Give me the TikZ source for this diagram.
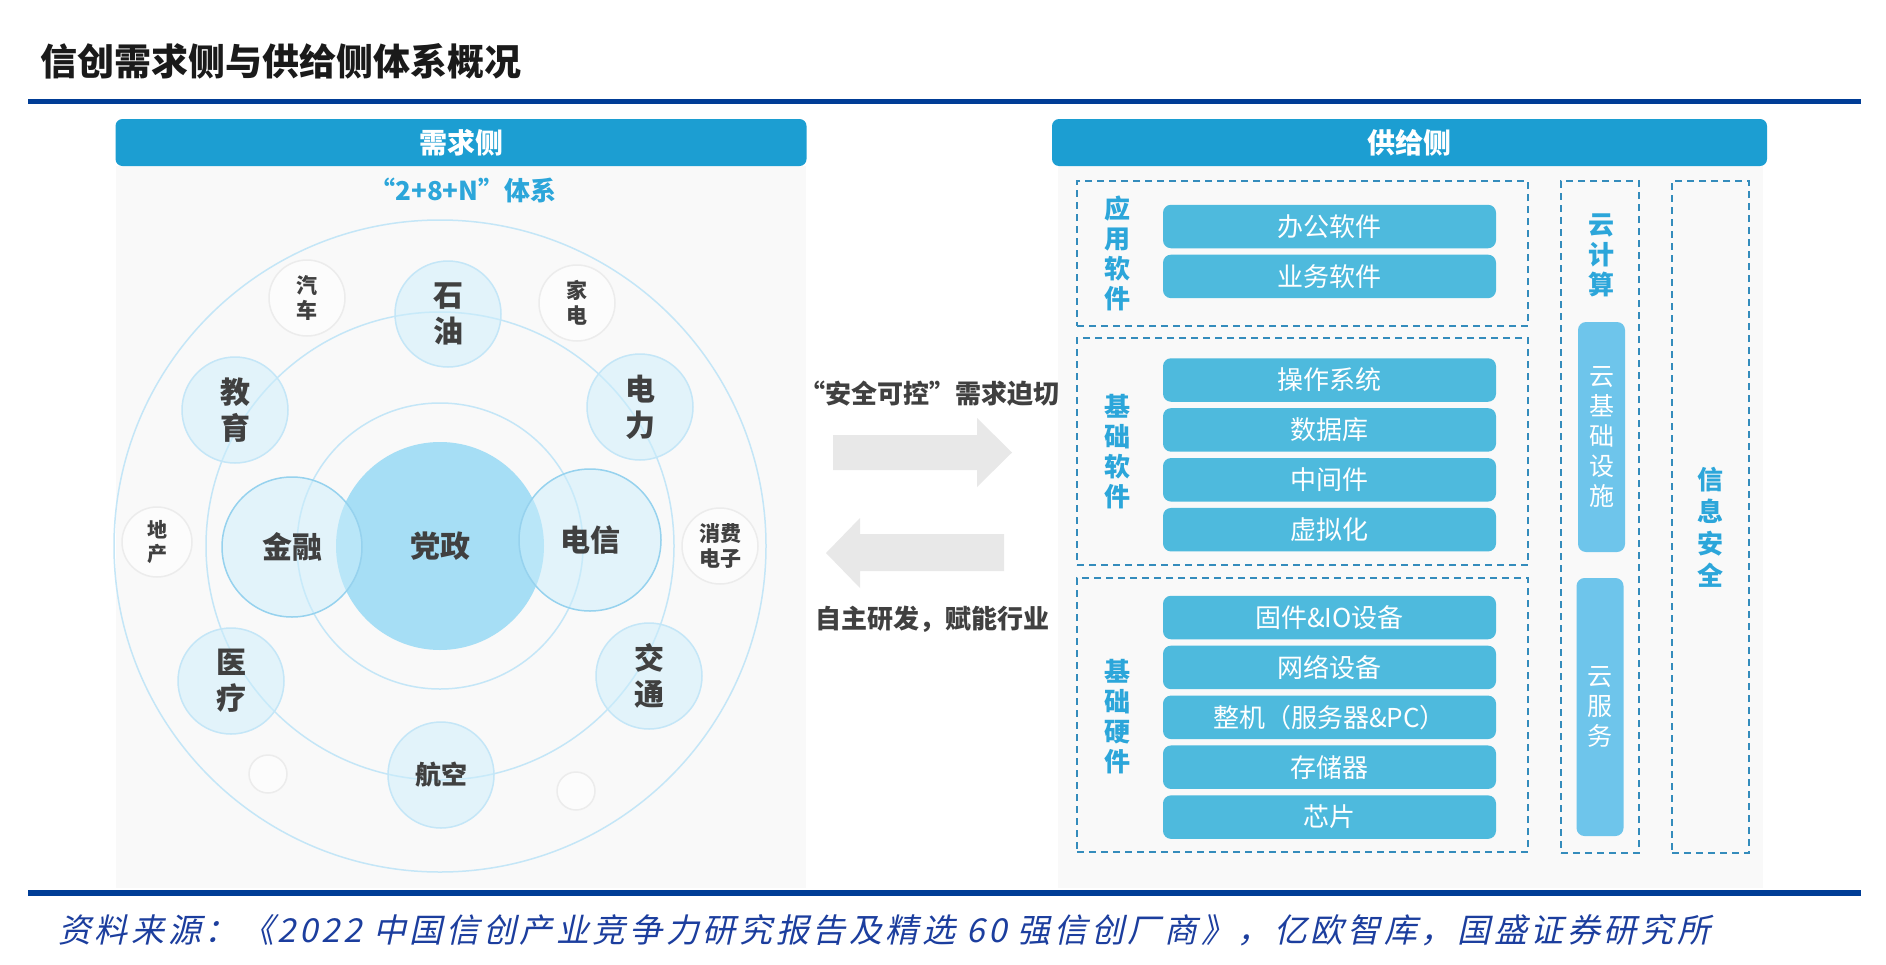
\documentclass[tikz,border=0pt]{standalone}
\usepackage{fontspec}
\setmainfont{Noto Sans CJK SC}
\newfontfamily\notefont[FakeSlant=0.22, LetterSpace=11]{Noto Sans CJK SC}
\usetikzlibrary{positioning}
\definecolor{barblue}{RGB}{28,158,210}
\definecolor{itemblue}{RGB}{78,186,221}
\definecolor{cloudblue}{RGB}{110,197,235}
\definecolor{dashblue}{RGB}{52,140,188}
\definecolor{labelblue}{RGB}{44,166,218}
\definecolor{navyline}{RGB}{0,61,150}
\definecolor{notenavy}{RGB}{28,62,158}
\definecolor{panelgray}{RGB}{249,249,249}
\definecolor{ringblue}{RGB}{196,230,247}
\definecolor{hubblue}{RGB}{166,222,245}
\definecolor{keyfill}{RGB}{204,238,252}
\definecolor{keyedge}{RGB}{150,210,238}
\definecolor{minoredge}{RGB}{236,236,236}
\definecolor{textgray}{RGB}{64,64,64}
\definecolor{arrowgray}{RGB}{232,232,232}
\tikzset{
  headbar/.style={fill=barblue, rounded corners=7pt, text=white, inner sep=0pt, minimum height=47pt, font=\fontsize{28}{32}\selectfont\bfseries},
  panelbg/.style={fill=panelgray, inner sep=0pt},
  ring/.style={draw=ringblue, line width=1.5pt},
  hubcircle/.style={circle, fill=hubblue, inner sep=0pt, text=textgray, font=\fontsize{30}{36}\selectfont\bfseries},
  keycircle/.style={circle, draw=keyedge, line width=1.5pt, fill=keyfill, fill opacity=0.5, text opacity=1, inner sep=0pt, text=textgray, font=\fontsize{30}{36}\selectfont\bfseries},
  sectorcircle/.style={circle, draw=ringblue, line width=1.5pt, fill=keyfill, fill opacity=0.5, text opacity=1, inner sep=0pt, minimum size=106pt, align=center, text=textgray, font=\fontsize{30}{36}\selectfont\bfseries},
  minorcircle/.style={circle, draw=minoredge, line width=1.5pt, fill=white, fill opacity=0.6, text opacity=1, inner sep=0pt, align=center, text=textgray, font=\fontsize{21}{25}\selectfont\bfseries},
  flowtext/.style={text=textgray, font=\fontsize{26}{30}\selectfont\bfseries},
  dashbox/.style={draw=dashblue, line width=1.8pt, dash pattern=on 7pt off 5pt, inner sep=0pt},
  itembox/.style={fill=itemblue, rounded corners=8pt, inner sep=0pt, minimum width=333pt, minimum height=43.5pt, text=white, font=\fontsize{26}{30}\selectfont},
  cloudbar/.style={fill=cloudblue, rounded corners=8pt, inner sep=0pt, minimum width=47pt, align=center, text=white, font=\fontsize{25}{30}\selectfont},
  sidelabel/.style={align=center, inner sep=0pt, text=labelblue, font=\fontsize{26}{30}\selectfont\bfseries}
}
\begin{document}
\begin{tikzpicture}[x=1pt, y=-1pt]
  \useasboundingbox[fill=white] (0,0) rectangle (1886,964);
  % title and rules
  \node[anchor=west, inner sep=0pt, text={rgb,255:red,26;green,26;blue,26}, font=\fontsize{37}{42}\selectfont\bfseries] (title) at (40,61) {信创需求侧与供给侧体系概况};
  \draw[navyline, line width=5pt] (28,101.5) -- (1861,101.5);
  \draw[navyline, line width=6pt] (28,893) -- (1861,893);

  % demand side
  \node[panelbg, minimum width=690pt, minimum height=722pt] (demandbg) at (461,527) {};
  \node[headbar, minimum width=691pt] (demandhead) at (461,142.5) {需求侧};
  \node[text=labelblue, font=\fontsize{26}{30}\selectfont\bfseries] (modeltag) at (463,190) {“2+8+N”体系};
  \coordinate (hub) at (440,546);
  \draw[ring] (hub) circle[radius=326pt];
  \draw[ring] (hub) circle[radius=234pt];
  \draw[ring] (hub) circle[radius=143pt];
  \node[hubcircle, minimum size=208pt] (party) at (hub) {党政};
  \node[keycircle, minimum size=140pt] (finance) at (292,547) {金融};
  \node[keycircle, minimum size=142pt] (telecom) at (590,540) {电信};
  \node[sectorcircle] (oil) at (448,314) {石\\油};
  \node[sectorcircle] (power) at (640,407) {电\\力};
  \node[sectorcircle] (edu) at (235,410) {教\\育};
  \node[sectorcircle] (medical) at (231,681) {医\\疗};
  \node[sectorcircle] (traffic) at (649,676) {交\\通};
  \node[sectorcircle, font=\fontsize{26}{30}\selectfont\bfseries] (aviation) at (441,775) {航空};
  \node[minorcircle, minimum size=76pt] (auto) at (307,298) {汽\\车};
  \node[minorcircle, minimum size=76pt] (appliance) at (577,303) {家\\电};
  \node[minorcircle, minimum size=70pt, font=\fontsize{20}{24}\selectfont\bfseries] (estate) at (157,542) {地\\产};
  \node[minorcircle, minimum size=76pt] (consumer) at (720,546) {消费\\电子};
  \node[minorcircle, minimum size=38pt] (spareleft) at (268,774) {};
  \node[minorcircle, minimum size=38pt] (spareright) at (576,791) {};

  % arrows between the sides
  \node[flowtext] (needtext) at (929,394) {“安全可控”需求迫切};
  \fill[arrowgray] (833,435) -- (977,435) -- (977,418) -- (1012,452.5) -- (977,487) -- (977,470) -- (833,470) -- cycle;
  \fill[arrowgray] (1004,534) -- (860,534) -- (860,518) -- (826,553) -- (860,588) -- (860,571) -- (1004,571) -- cycle;
  \node[flowtext] (selftext) at (932,619) {自主研发，赋能行业};

  % supply side
  \node[panelbg, minimum width=705pt, minimum height=722pt] (supplybg) at (1410.5,527) {};
  \node[headbar, minimum width=715pt] (supplyhead) at (1409.5,142.5) {供给侧};
  \node[dashbox, minimum width=451pt, minimum height=145pt] (appbox) at (1302.5,253.5) {};
  \node[dashbox, minimum width=451pt, minimum height=227pt] (basesoftbox) at (1302.5,451.5) {};
  \node[dashbox, minimum width=451pt, minimum height=274pt] (hardbox) at (1302.5,715) {};
  \node[dashbox, minimum width=78pt, minimum height=672pt] (cloudbox) at (1600,517) {};
  \node[dashbox, minimum width=77pt, minimum height=672pt] (securebox) at (1710.5,517) {};

  \node[sidelabel] (applabel) at (1117,253) {应\\用\\软\\件};
  \node[sidelabel] (basesoftlabel) at (1117,452) {基\\础\\软\\件};
  \node[sidelabel] (hardlabel) at (1117,717) {基\\础\\硬\\件};
  \node[sidelabel] (cloudlabel) at (1601,255) {云\\计\\算};
  \node[sidelabel, font=\fontsize{26}{32}\selectfont\bfseries] (securelabel) at (1710.5,527) {信\\息\\安\\全};

  \node[itembox] (office) at (1329.5,226.5) {办公软件};
  \node[itembox, below=6pt of office] (business) {业务软件};
  \node[itembox] (os) at (1329.5,380) {操作系统};
  \node[itembox, below=6pt of os] (database) {数据库};
  \node[itembox, below=6pt of database] (middleware) {中间件};
  \node[itembox, below=6pt of middleware] (virtual) {虚拟化};
  \node[itembox] (firmware) at (1329.5,617.5) {固件\&IO设备};
  \node[itembox, below=6pt of firmware] (network) {网络设备};
  \node[itembox, below=6pt of network] (server) {整机（服务器\&PC）};
  \node[itembox, below=6pt of server] (storage) {存储器};
  \node[itembox, below=6pt of storage] (chip) {芯片};

  \node[cloudbar, minimum height=230pt] (cloudinfra) at (1601.5,437) {云\\基\\础\\设\\施};
  \node[cloudbar, minimum height=258pt] (cloudservice) at (1600,707) {云\\服\\务};

  % source note
  \node[anchor=west, inner sep=0pt, text=notenavy, font=\notefont\fontsize{33}{38}\selectfont] (source) at (58,930) {资料来源：《2022 中国信创产业竞争力研究报告及精选 60 强信创厂商》，亿欧智库，国盛证券研究所};
\end{tikzpicture}
\end{document}
